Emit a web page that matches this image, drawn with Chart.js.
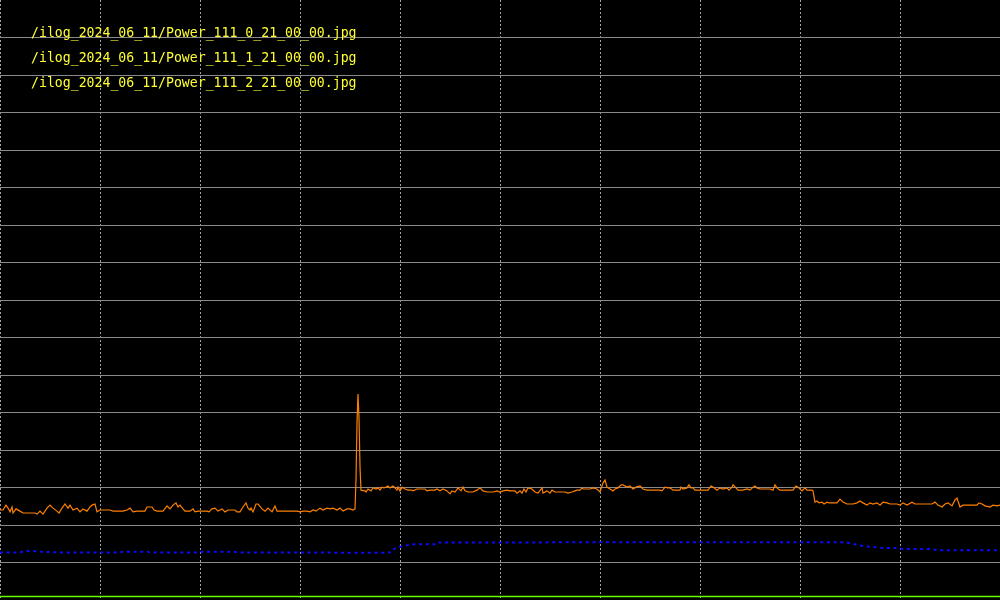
<!DOCTYPE html>
<html>
<head>
<meta charset="utf-8">
<script src="https://cdn.jsdelivr.net/npm/chart.js@4.4.0/dist/chart.umd.min.js"></script>
<style>
html,body{margin:0;padding:0;background:#000;}
#wrap{width:1000px;height:600px;}
</style>
</head>
<body>
<div id="wrap"><canvas id="c" width="1000" height="600"></canvas></div>
<script>
// Series labels
const seriesLabels = [
  "/ilog_2024_06_11/Power_111_0_21_00_00.jpg",
  "/ilog_2024_06_11/Power_111_1_21_00_00.jpg",
  "/ilog_2024_06_11/Power_111_2_21_00_00.jpg"
];

// Series 0 (orange): sample index and value
const s0x = [0,3,6,8,10,12,13,16,20,23,35,37,40,43,47,50,53,57,59,62,65,68,70,73,77,80,83,87,90,92,95,97,100,110,113,123,127,130,133,137,145,147,152,154,157,163,167,170,173,176,178,180,183,185,190,193,195,198,207,209,212,215,218,222,225,228,235,237,240,243,246,248,250,251,253,256,258,262,265,268,272,275,277,297,300,303,307,310,313,316,320,323,327,330,333,337,340,343,347,350,353,355,356,357,358,359,360,361,365,366,368,371,373,376,378,380,382,384,386,388,390,393,395,397,398,400,402,405,408,412,413,417,425,427,430,435,437,440,443,447,450,452,455,458,461,463,465,468,473,477,480,483,487,493,497,500,503,507,510,515,517,520,522,524,526,528,532,535,538,542,543,547,550,552,555,565,568,572,575,577,580,582,583,590,593,597,600,603,605,607,610,613,615,618,621,623,627,630,633,636,640,643,647,660,662,665,668,670,673,680,681,683,687,689,691,693,695,708,711,713,717,720,723,727,729,732,733,736,738,743,747,750,753,755,757,760,770,773,775,777,780,793,796,798,802,805,807,812,813,815,817,819,822,824,827,829,837,840,843,847,853,857,860,863,867,870,873,877,880,883,887,890,897,900,903,907,912,915,932,935,938,942,945,948,952,955,957,960,963,977,979,982,985,990,993,997,1000];
const s0y = [2.40,2.40,2.53,2.45,2.35,2.48,2.32,2.43,2.37,2.32,2.32,2.29,2.37,2.29,2.45,2.53,2.45,2.37,2.32,2.45,2.56,2.45,2.53,2.40,2.45,2.35,2.43,2.37,2.48,2.53,2.56,2.35,2.40,2.40,2.37,2.37,2.40,2.45,2.35,2.37,2.37,2.48,2.48,2.40,2.37,2.37,2.51,2.43,2.53,2.59,2.48,2.53,2.43,2.37,2.37,2.43,2.35,2.37,2.37,2.35,2.43,2.45,2.37,2.43,2.35,2.40,2.40,2.35,2.35,2.48,2.59,2.45,2.40,2.45,2.35,2.56,2.56,2.43,2.37,2.45,2.35,2.51,2.37,2.37,2.35,2.37,2.37,2.35,2.40,2.37,2.45,2.40,2.45,2.43,2.45,2.40,2.45,2.37,2.43,2.43,2.40,2.43,3.20,4.72,5.49,4.85,3.55,2.93,2.91,2.88,2.96,2.91,2.99,2.96,2.99,2.93,3.01,2.99,3.01,3.04,2.99,3.04,2.99,2.93,3.01,2.91,3.01,2.96,2.93,2.93,2.91,2.96,2.96,2.91,2.93,2.93,2.96,2.91,2.96,2.91,2.83,2.91,2.88,2.99,2.91,3.01,2.91,2.88,2.88,2.93,2.99,2.91,2.88,2.88,2.91,2.88,2.91,2.93,2.91,2.91,2.85,2.91,2.85,2.96,2.88,2.99,2.96,2.88,2.85,2.99,2.85,2.91,2.85,2.93,2.88,2.88,2.85,2.88,2.91,2.93,2.93,2.99,2.96,2.96,2.99,2.96,2.88,3.12,3.20,3.01,2.96,2.91,2.96,2.99,3.07,3.07,3.01,3.04,2.96,3.01,3.04,2.96,2.93,2.93,2.91,3.01,2.99,2.99,2.93,2.93,3.01,2.96,2.99,3.07,2.99,2.99,2.93,2.93,3.04,3.01,2.93,2.99,2.96,2.99,2.93,3.01,3.07,2.99,2.93,2.93,2.96,2.93,3.01,3.04,2.99,2.96,2.96,2.93,3.07,2.99,2.93,2.93,3.04,3.01,2.91,2.99,2.93,2.93,2.91,2.61,2.64,2.59,2.61,2.56,2.61,2.59,2.59,2.69,2.61,2.56,2.56,2.59,2.64,2.59,2.53,2.59,2.56,2.59,2.53,2.61,2.59,2.56,2.56,2.53,2.59,2.53,2.61,2.56,2.56,2.61,2.53,2.48,2.56,2.59,2.51,2.67,2.72,2.48,2.53,2.53,2.59,2.56,2.51,2.48,2.53,2.51,2.53];

// Series 1 (green)
const s1x = [0, 1000];
const s1y = [0.093, 0.093];

// Series 2 (blue)
const s2x = [0,20,25,33,40,57,120,123,147,150,200,203,233,237,383,390,391,397,398,403,410,417,437,438,600,843,845,850,857,863,870,883,897,903,930,937,1000];
const s2y = [1.27,1.27,1.31,1.31,1.29,1.27,1.27,1.29,1.29,1.27,1.27,1.29,1.29,1.27,1.26,1.27,1.33,1.39,1.41,1.44,1.47,1.49,1.49,1.53,1.54,1.54,1.53,1.52,1.47,1.44,1.42,1.39,1.39,1.36,1.36,1.33,1.33];

// Axis range / ticks
const xMin = 0, xMax = 1000, xStep = 100;
const yMin = 0, yMax = 16, yStep = 1;

function zip(xs, ys){ return xs.map((x,i)=>({x:x, y:ys[i]})); }

const labelPlugin = {
  id: 'fileLabels',
  afterDatasetsDraw(chart){
    const ctx = chart.ctx;
    ctx.save();
    ctx.font = '13.2px "DejaVu Sans Mono", monospace';
    ctx.fillStyle = '#ffff33';
    ctx.textBaseline = 'middle';
    ctx.textAlign = 'left';
    seriesLabels.forEach((t,i)=>{ ctx.fillText(t, 31, 34 + i*25); });
    ctx.restore();
  }
};

const bgPlugin = {
  id: 'bg',
  beforeDraw(chart){
    const ctx = chart.ctx;
    ctx.save();
    ctx.fillStyle = '#000';
    ctx.fillRect(0,0,chart.width,chart.height);
    ctx.restore();
  }
};

new Chart(document.getElementById('c'), {
  type: 'line',
  data: {
    datasets: [
      { label: seriesLabels[0], data: zip(s0x, s0y), borderColor: '#ff8000', borderWidth: 1.2, pointRadius: 0, tension: 0, order: 1 },
      { label: seriesLabels[1], data: zip(s1x, s1y), borderColor: '#66ff00', borderWidth: 1.4, pointRadius: 0, tension: 0, order: 3 },
      { label: seriesLabels[2], data: zip(s2x, s2y), borderColor: '#0a0aff', borderWidth: 2, borderDash: [3, 3.7], pointRadius: 0, tension: 0, order: 2 }
    ]
  },
  options: {
    responsive: false,
    animation: false,
    devicePixelRatio: 1,
    layout: { padding: 0 },
    plugins: { legend: { display: false }, tooltip: { enabled: false } },
    scales: {
      x: {
        type: 'linear', min: xMin, max: xMax,
        ticks: { display: false, stepSize: xStep },
        border: { display: false, dash: [2, 2] },
        grid: { color: (c) => (c.tick && c.tick.value === xMax) ? 'rgba(0,0,0,0)' : '#a0a0a0', drawTicks: false, lineWidth: 1 }
      },
      y: {
        type: 'linear', min: yMin, max: yMax,
        ticks: { display: false, stepSize: yStep },
        border: { display: false },
        grid: { color: (c) => (c.tick && (c.tick.value === yMax || c.tick.value === yMin)) ? 'rgba(0,0,0,0)' : '#8a8a8a', drawTicks: false, lineWidth: 1 }
      }
    }
  },
  plugins: [bgPlugin, labelPlugin]
});
</script>
</body>
</html>
